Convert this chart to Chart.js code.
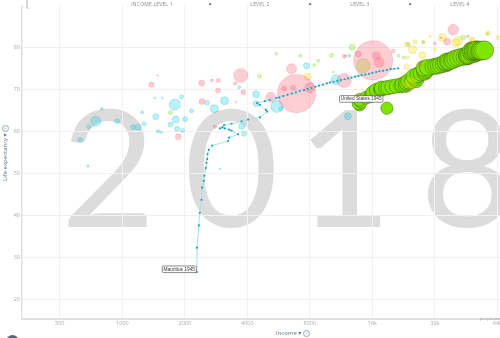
<!DOCTYPE html>
<html><head><meta charset="utf-8">
<script src="https://cdn.jsdelivr.net/npm/chart.js@4.4.1/dist/chart.umd.min.js"></script>
<style>
html,body{margin:0;padding:0;background:#fff;}
body{width:500px;height:338px;overflow:hidden;position:relative;font-family:"Open Sans","DejaVu Sans",sans-serif;}
#year{position:absolute;left:0;top:0;width:500px;height:338px;color:#dcdcdc;font-family:Lato;font-weight:400;white-space:nowrap;}
#wrap{position:absolute;left:0;top:0;width:520px;height:338px;}
.hdr{position:absolute;top:1px;font-size:5px;line-height:6px;color:#80878c;letter-spacing:.2px;transform:translateX(-50%);white-space:nowrap;}
.star{position:absolute;top:1px;font-size:5px;line-height:6px;color:#555;transform:translateX(-50%);}
.q{display:inline-block;width:5px;height:5px;border:0.6px solid #97a6b0;border-radius:50%;font-size:4px;line-height:5px;text-align:center;color:#97a6b0;vertical-align:middle;}
.ttl{position:absolute;font-size:6px;line-height:7px;color:#5f7583;white-space:nowrap;}
</style></head>
<body>
<div id="year">2018</div>
<div id="wrap"><canvas id="c" width="520" height="338"></canvas></div>
<div class="hdr" style="left:152px">INCOME LEVEL 1</div>
<div class="star" style="left:210px">✦</div>
<div class="hdr" style="left:260px">LEVEL 2</div>
<div class="star" style="left:310px">✦</div>
<div class="hdr" style="left:360px">LEVEL 3</div>
<div class="star" style="left:410px">✦</div>
<div class="hdr" style="left:460px">LEVEL 4</div>
<div class="ttl" style="left:23px;top:9px;font-size:3.5px;color:#999;transform:rotate(-90deg);transform-origin:0 0;">years</div>
<div class="ttl" style="left:2px;top:181px;transform:rotate(-90deg);transform-origin:0 0;">Life expectancy ▾ <span class="q">?</span></div>
<div class="ttl" style="left:276px;top:329.5px;">Income ▾ <span class="q">?</span></div>
<div class="ttl" style="left:480px;top:314.5px;font-size:4px;color:#9a9a9a;">per person (GDP/capita, PPP$ inflation-adjusted)</div>
<div style="position:absolute;left:6px;top:335px;width:13px;height:13px;border-radius:50%;background:#53687a;"></div>
<script>
// ---- axes ----
const X_TICKS = [500, 1000, 2000, 4000, 8000, 16000, 32000, 64000];
const X_TICK_LABELS = ['500', '1000', '2000', '4000', '8000', '16k', '32k', '64k'];
const Y_TICKS = [20, 30, 40, 50, 60, 70, 80];

// ---- background countries, year 2018 (income, life expectancy, population in millions) ----
const AFRICA_INCOME = [626,684,690,745,797,944,1127,1192,1246,1274,1434,1562,1450,1487,1544,1706,1790,1810,1836,1928,1950,2007,2154,2561,2774,3106,2949,3652,3763,3860,4410,4410,5550,5800,7712,10674,12371,12200];
const AFRICA_LIFE   = [58.0,51.7,61.1,62.4,65.4,62.4,61.0,61.0,64.5,61.8,68.0,67.9,63.5,60.0,59.7,61.6,66.4,62.8,60.6,68.2,60.2,62.9,64.9,66.8,65.4,67.3,51.1,70.5,61.2,59.4,68.8,66.6,65.9,65.4,75.6,72.3,78.0,63.6];
const AFRICA_POP    = [20,5,15,92,6,23,23,33,8,15,2.4,2.4,33,12,3.7,23,112,45,23,15,15,23,15,20,59,59,2.4,8,33,23,45,33,133,15,33,92,8,45];

const ASIA_INCOME = [1382,1477,1861,2415,2420,2698,2900,2890,2789,3494,3540,3721,3826,5190,6017,6648,6902,6530,8000,11703,16145,16760,17256,13670,11703,20150,27095,39197,36673,46140,32000,39000,34205];
const ASIA_LIFE   = [71.1,73.3,58.7,71.5,67.1,72.1,72.1,69.7,61.1,71.4,67.0,73.3,69.3,68.1,70.2,70.4,69.0,74.9,70.4,72.1,76.9,78.0,76.4,78.4,77.8,79.1,76.0,84.2,81.3,82.6,80.9,78.4,82.3];
const ASIA_POP    = [27,2.4,33,33,33,8,15,23,12,11,2.4,181,23,92,23,23,1354,92,92,181,1415,59,92,33,15,15,15,104,45,8,8,3.7,3.7];

const EUROPE_INCOME = [7824,24986,27920,23380,23380,25634,28107,34850,40390,41435,48075,48610,64580,57790,30274,32000,23600,24400];
const EUROPE_LIFE   = [73.0,79.5,78.1,80.7,75.4,81.3,81.3,82.3,81.1,81.5,81.7,81.9,82.3,83.4,82.6,79.5,77.6,71.5];
const EUROPE_POP    = [45,59,45,15,23,15,8,59,59,75,23,15,15,15,3.7,8,8,133];

const AMERICAS_INCOME = [1706,4569,5518,7200,8772,8400,10176,10400,14449,12800,11900,21400,22690,23800,28107,43796,57160,43000];
const AMERICAS_LIFE   = [64.5,73.1,78.5,78.0,76.8,75.8,78.1,74.1,75.6,80.0,78.0,78.0,77.6,80.7,81.2,82.3,83.2,77.2];
const AMERICAS_POP    = [15,15,8,8,8,8,15,3.7,181,33,3.7,8,8,15,8,23,8,3.7];

// ---- Mauritius trail 1945 -> 2018 ----
const MU_NAME = 'Mauritius';
const MU_START_YEAR = 1945;
const MU_INCOME = [2285,2290,2336,2362,2407,2423,2469,2488,2524,2544,2561,2572,2610,2708,3233,3269,3612,3357,3269,3117,2949,3038,3093,3357,3750,4036,4595,4983,4911,4595,4460,4857,5133,5529,5700,5950,6250,6550,6850,7150,7500,7800,8150,8500,8850,9250,9650,10000,10400,10850,11300,11750,12200,12700,13200,13700,14200,14800,15400,16000,16700,17300,18000,18800,19600,20400,21300];
const MU_LIFE   = [26.5,32.3,37.6,40.6,43.7,46.6,48.2,49.4,51.3,52.5,53.4,54.6,55.6,56.6,57.7,58.5,59.3,60.2,60.4,60.7,60.7,61.0,61.5,61.8,62.4,62.8,63.3,64.7,65.1,66.3,66.7,67.2,67.5,67.9,68.1,68.4,68.7,69.0,69.3,69.6,69.8,70.1,70.3,70.6,70.9,71.1,71.4,71.6,71.8,72.0,72.2,72.4,72.6,72.8,73.0,73.2,73.4,73.5,73.7,73.9,74.1,74.3,74.4,74.6,74.8,74.9,75.0];

// ---- United States trail 1945 -> 2018 ----
const US_NAME = 'United States';
const US_START_YEAR = 1945;
const US_INCOME = [18800,13900,13700,14100,13900,14900,15600,15900,16300,16000,16900,17000,17100,16700,17500,17600,17700,18500,19000,19900,20900,22000,22300,23100,23600,23300,23800,24800,26000,25600,25300,26400,27400,28500,29000,28700,29200,28300,29400,31300,32300,33200,34100,35200,36200,36600,36000,36900,37400,38500,39100,40100,41400,42900,44500,45900,45800,46100,46900,48200,49300,50100,50600,50000,48000,48800,49200,50000,50600,51500,52600,53100,54000,55300];
const US_LIFE   = [65.5,66.3,66.6,67.0,67.5,68.0,68.3,68.5,68.8,69.2,69.4,69.6,69.6,69.8,70.0,70.0,70.3,70.3,70.4,70.6,70.8,70.9,71.1,71.0,71.3,71.6,71.9,72.0,72.2,72.7,73.1,73.4,73.8,74.0,74.4,74.3,74.7,75.0,75.2,75.4,75.5,75.6,75.8,76.0,76.1,76.3,76.5,76.7,76.6,76.8,77.0,77.3,77.5,77.7,77.8,77.9,78.0,78.1,78.2,78.5,78.5,78.7,78.9,79.0,79.1,79.2,79.2,79.3,79.3,79.3,79.2,79.2,79.2,79.3];
const US_POP    = [140,141,144,147,149,152,155,157,160,163,166,169,172,175,178,181,184,187,189,192,194,197,199,201,203,205,208,210,212,214,216,218,220,223,225,227,229,232,234,236,238,240,242,245,247,250,253,257,260,263,266,269,273,276,279,282,285,288,290,293,296,298,301,304,307,309,312,314,316,319,321,323,325,326,327];

// bubble area proportional to population
const RADIUS_PER_SQRT_POP = 0.52;
function toBubbles(inc, life, pop) {
  return inc.map((v, i) => ({ x: v, y: life[i], r: Math.max(0.8, RADIUS_PER_SQRT_POP * Math.sqrt(pop[i])) }));
}

// ---- big background year: fit digits by measured ink box ----
(function layoutYear() {
  const el = document.getElementById('year');
  const text = el.textContent;
  const FAM = 'Lato';
  const c = document.createElement('canvas').getContext('2d');
  c.font = '200px ' + FAM;
  const zero = c.measureText('0');
  const inkH200 = zero.actualBoundingBoxAscent;
  const size = 200 * 119 / inkH200;       // digit ink height ~119px
  c.font = size + 'px ' + FAM;
  const fm = c.measureText(text);
  const fA = fm.fontBoundingBoxAscent, fD = fm.fontBoundingBoxDescent;
  const inkLefts = [68, 188, 310, 427];
  const baseline = 227;
  el.textContent = '';
  text.split('').forEach((d, i) => {
    const m = c.measureText(d);
    const s = document.createElement('span');
    s.textContent = d;
    s.style.position = 'absolute';
    s.style.left = (inkLefts[i] + m.actualBoundingBoxLeft) + 'px';
    s.style.top = (baseline - fA) + 'px';
    s.style.fontSize = size + 'px';
    s.style.lineHeight = (fA + fD) + 'px';
    el.appendChild(s);
  });
})();

Chart.defaults.font.family = '"Open Sans", "DejaVu Sans", sans-serif';

const trailLabels = {
  id: 'trailLabels',
  afterDatasetsDraw(chart) {
    const { ctx, scales: { x, y } } = chart;
    function box(text, right, bottom) {
      ctx.save();
      ctx.font = '4.8px "Liberation Sans", Arial, sans-serif';
      const w = ctx.measureText(text).width + 2.6, h = 6.6;
      const left = right - w, top = bottom - h;
      ctx.fillStyle = '#fff'; ctx.strokeStyle = '#5a5a5a'; ctx.lineWidth = 0.7;
      ctx.beginPath();
      if (ctx.roundRect) ctx.roundRect(left, top, w, h, 1); else ctx.rect(left, top, w, h);
      ctx.fill(); ctx.stroke();
      ctx.fillStyle = '#333'; ctx.textBaseline = 'middle';
      ctx.fillText(text, left + 1.3, top + h / 2 + 0.2);
      ctx.restore();
    }
    const mx = x.getPixelForValue(MU_INCOME[0]), my = y.getPixelForValue(MU_LIFE[0]);
    box(MU_NAME + ' ' + MU_START_YEAR, mx - 0.5, my + 0.5);
    const ux = x.getPixelForValue(US_INCOME[0]), uy = y.getPixelForValue(US_LIFE[0]);
    box(US_NAME + ' ' + US_START_YEAR, ux - 4, uy - 6);
  }
};

new Chart(document.getElementById('c').getContext('2d'), {
  type: 'bubble',
  data: {
    datasets: [
      { label: MU_NAME, type: 'scatter', showLine: true,
        data: MU_INCOME.map((v, i) => ({ x: v, y: MU_LIFE[i] })),
        borderColor: '#9fe2ee', borderWidth: 1, pointRadius: 1.1,
        pointBackgroundColor: '#2a9db1', pointBorderWidth: 0, order: 0 },
      { label: 'Asia', data: toBubbles(ASIA_INCOME, ASIA_LIFE, ASIA_POP),
        backgroundColor: 'rgba(255,88,114,0.3)', borderColor: 'rgba(225,90,110,0.35)', borderWidth: 0.6, order: 1 },
      { label: 'Africa', data: toBubbles(AFRICA_INCOME, AFRICA_LIFE, AFRICA_POP),
        backgroundColor: 'rgba(0,205,230,0.27)', borderColor: 'rgba(0,170,195,0.4)', borderWidth: 0.6, order: 2 },
      { label: 'Europe', data: toBubbles(EUROPE_INCOME, EUROPE_LIFE, EUROPE_POP),
        backgroundColor: 'rgba(255,225,0,0.3)', borderColor: 'rgba(200,180,0,0.4)', borderWidth: 0.6, order: 3 },
      { label: 'Americas', data: toBubbles(AMERICAS_INCOME, AMERICAS_LIFE, AMERICAS_POP),
        backgroundColor: 'rgba(127,235,0,0.3)', borderColor: 'rgba(100,190,0,0.4)', borderWidth: 0.6, order: 4 },
      { label: US_NAME, data: toBubbles(US_INCOME, US_LIFE, US_POP),
        backgroundColor: '#7fe600', borderColor: 'rgba(45,75,0,0.6)', borderWidth: 0.7, order: 5 }
    ]
  },
  options: {
    responsive: false, animation: false, devicePixelRatio: 1, events: [],
    layout: { autoPadding: false, padding: { left: 0, right: 15, top: 0, bottom: 0 } },
    plugins: { legend: { display: false }, tooltip: { enabled: false } },
    scales: {
      x: {
        type: 'logarithmic', min: 329, max: 69600, bounds: 'data',
        afterBuildTicks: s => { s.ticks = X_TICKS.map(v => ({ value: v })); },
        afterFit: s => { s.height = 19; },
        ticks: { autoSkip: false, maxRotation: 0, padding: 1.5, color: '#a9a9a9',
          font: { size: 5.5 }, callback: (v, i) => X_TICK_LABELS[i] },
        grid: { color: '#edf2f4', drawTicks: false },
        border: { color: '#e0e0e0', width: 2 }
      },
      y: {
        type: 'linear', min: 15.33, max: 90, bounds: 'data',
        afterBuildTicks: s => { s.ticks = Y_TICKS.map(v => ({ value: v })); },
        afterFit: s => { s.width = 22; },
        ticks: { padding: 2, color: '#a9a9a9', font: { size: 5.5 }, callback: v => String(v) },
        grid: { color: '#edf2f4', drawTicks: false },
        border: { color: '#e0e0e0', width: 1.5 }
      }
    }
  },
  plugins: [trailLabels]
});
</script>
</body></html>
